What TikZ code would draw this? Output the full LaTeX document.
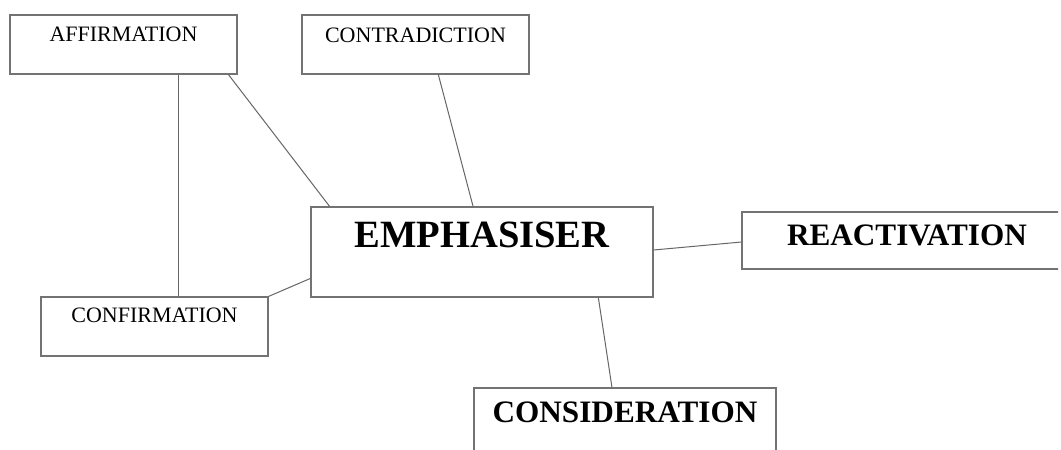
\documentclass[tikz,border=0pt]{standalone}
\usepackage{fontspec}
\setmainfont{Liberation Serif}
\usetikzlibrary{positioning,calc}

\begin{document}
\begin{tikzpicture}[x=0.5pt,y=-0.5pt,
    box/.style={draw=black!55, line width=0.6pt, rectangle, inner sep=0pt},
    link/.style={draw=black!60, line width=0.5pt},
    small word/.style={inner sep=0pt, font=\fontsize{11}{13}\selectfont},
    big word/.style={inner sep=0pt, font=\fontsize{15.6}{18}\selectfont\bfseries},
    main word/.style={inner sep=0pt, font=\fontsize{19.3}{22}\selectfont\bfseries}]
    \fill[white] (0,0) rectangle (1061,450);
    \useasboundingbox (0,0) rectangle (1061,450);
    \clip (0,0) rectangle (1058,450);

    % boxes
    \node[box, minimum width=113.5pt, minimum height=29.5pt] (affirm) at (123.5,44.5) {};
    \node[box, minimum width=113.5pt, minimum height=29.5pt] (contra) at (415.5,44.5) {};
    \node[box, minimum width=171pt, minimum height=45pt] (emph) at (482,252) {};
    \node[box, minimum width=180pt, minimum height=28.5pt] (react) at (922,240.5) {};
    \node[box, minimum width=113.5pt, minimum height=29.5pt] (confirm) at (154.5,326.5) {};
    \node[box, minimum width=151pt, minimum height=41pt] (consid) at (625,429) {};

    % words
    \node[small word, below=6pt of affirm.north] (affirmtext) {AFFIRMATION};
    \node[small word, below=6.5pt of contra.north] (contratext) {CONTRADICTION};
    \node[main word, below=7.5pt of emph.north] (emphtext) {EMPHASISER};
    \node[big word, below=6.5pt of react.north, xshift=-7.5pt] (reacttext) {REACTIVATION};
    \node[small word, below=5.5pt of confirm.north] (confirmtext) {CONFIRMATION};
    \node[big word, below=7pt of consid.north] (considtext) {CONSIDERATION};

    % connectors
    \coordinate (a1) at ($(affirm.south west)!0.74!(affirm.south east)$);
    \draw[link] (a1) -- (a1 |- confirm.north);
    \draw[link] ($(affirm.south west)!0.96!(affirm.south east)$) -- ($(emph.north west)!0.056!(emph.north east)$);
    \draw[link] ($(contra.south west)!0.6!(contra.south east)$) -- ($(emph.north west)!0.474!(emph.north east)$);
    \draw[link] ($(emph.north east)!0.478!(emph.south east)$) -- ($(react.north west)!0.526!(react.south west)$);
    \draw[link] ($(emph.north west)!0.79!(emph.south west)$) -- (confirm.north east);
    \draw[link] ($(emph.south west)!0.839!(emph.south east)$) -- ($(consid.north west)!0.457!(consid.north east)$);
\end{tikzpicture}
\end{document}
